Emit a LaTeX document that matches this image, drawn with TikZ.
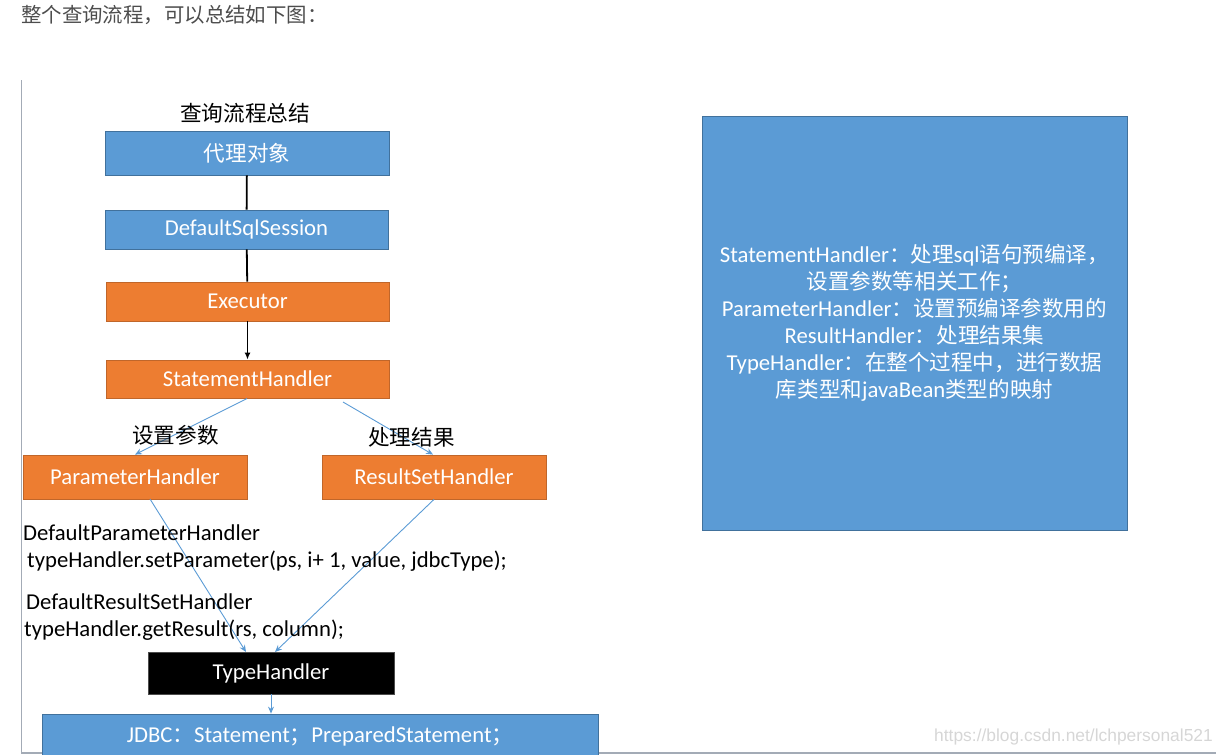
\documentclass[tikz,border=0pt]{standalone}
\usepackage{fontspec}
\setmainfont{Carlito}
\newfontfamily\cjk[Scale=0.95]{Noto Sans CJK SC}
\newfontfamily\wm{Liberation Sans}
\usetikzlibrary{arrows.meta,calc}
\definecolor{blueC}{HTML}{5B9BD5}
\definecolor{blueB}{HTML}{41719C}
\definecolor{orangeC}{HTML}{ED7D31}
\definecolor{orangeB}{HTML}{C0662A}
\definecolor{frameC}{HTML}{A3ABB6}
\definecolor{topC}{HTML}{4D4D4D}
\newcommand{\C}[1]{{\cjk #1}}
\tikzset{
  boxbase/.style={inner sep=0pt, line width=0.8pt, text=white, font=\fontsize{22.7}{27}\selectfont},
  bluebox/.style={boxbase, fill=blueC, draw=blueB},
  orangebox/.style={boxbase, fill=orangeC, draw=orangeB},
  blackbox/.style={boxbase, fill=black, draw=black!70},
  blackline/.style={line width=1.8pt, black},
  blackarrow/.style={blackline, -{Latex[length=7pt,width=6pt]}},
  bluearrow/.style={line width=0.9pt, blueC, -{Stealth[length=7pt,width=6pt]}},
  plain/.style={inner sep=0pt, font=\fontsize{22.7}{27}\selectfont},
  cjklabel/.style={inner sep=0pt, font=\cjk\fontsize{22.7}{27}\selectfont},
}
\begin{document}
\begin{tikzpicture}[x=1pt,y=-1pt]
\useasboundingbox (0,0) rectangle (1216,755);
% top caption
\node[anchor=west, inner sep=0pt, text=topC, font=\cjk\fontsize{21.5}{25}\selectfont] (cap) at (21,15) {整个查询流程，可以总结如下图：};
% frame lines
\coordinate (f1) at (21.5,80);
\coordinate (f2) at (21.5,753);
\coordinate (f3) at (1216,753);
\draw[frameC, line width=1.4pt] (f1) -- (f2) -- (f3);
% title
\node[cjklabel, font=\cjk\fontsize{22.8}{27}\selectfont] (title) at (245,113) {查询流程总结};
% boxes
\node[bluebox, minimum width=284pt, minimum height=44pt] (proxy) at (247,153) {\C{代理对象}};
\node[bluebox, minimum width=283pt, minimum height=39pt] (dss) at (246.5,229.5) {DefaultSqlSession};
\node[orangebox, minimum width=283pt, minimum height=39pt] (exec) at (247.5,301.5) {Executor};
\node[orangebox, minimum width=283pt, minimum height=38pt] (sh) at (247.5,379) {StatementHandler};
\node[orangebox, minimum width=224pt, minimum height=44pt] (ph) at (135,477) {ParameterHandler};
\node[orangebox, minimum width=224pt, minimum height=44pt] (rsh) at (434,477) {ResultSetHandler};
\node[blackbox, minimum width=246pt, minimum height=42pt] (th) at (271,673) {TypeHandler};
\node[bluebox, minimum width=556pt, minimum height=44pt] (jdbc) at (320,736) {JDBC\C{：}Statement\C{；}PreparedStatement\C{；}};
\node[bluebox, minimum width=425pt, minimum height=414pt, align=center] (desc) at (914.5,323)
 {StatementHandler\C{：处理}sql\C{语句预编译，}\\
  \C{设置参数等相关工作；}\\
  ParameterHandler\C{：设置预编译参数用的}\\
  ResultHandler\C{：处理结果集}\\
  TypeHandler\C{：在整个过程中，进行数据}\\
  \C{库类型和}javaBean\C{类型的映射}};
% black connectors
\draw[blackline] (proxy) -- (dss);
\draw[blackline] (dss) -- (exec);
\draw[blackarrow] (exec) -- (sh);
% blue connectors
\coordinate (s1) at (247,398.5);
\coordinate (s2) at (343,402);
\draw[bluearrow] (s1) -- (ph.north);
\draw[bluearrow] (s2) -- ($(rsh.north)+(-1,0)$);
\coordinate (p1) at (150,499);
\coordinate (t1) at (246,652);
\coordinate (t2) at (275,652);
\draw[bluearrow] (p1) -- (t1);
\draw[bluearrow] (rsh.south) -- (t2);
\draw[bluearrow] (th.south) -- (th.south |- jdbc.north);
% labels
\node[cjklabel] (l1) at (175.5,435) {设置参数};
\node[cjklabel] (l2) at (411.5,437) {处理结果};
\node[plain, anchor=west] (t1a) at (23,533) {DefaultParameterHandler};
\node[plain, anchor=west] (t1b) at (27,561) {typeHandler.setParameter(ps, i+ 1, value, jdbcType);};
\node[plain, anchor=west] (t2a) at (26,602) {DefaultResultSetHandler};
\node[plain, anchor=west] (t2b) at (24,630) {typeHandler.getResult(rs, column);};
% watermark
\node[anchor=east, inner sep=0pt, text=black!16, font=\wm\fontsize{17.4}{20}\selectfont] (wmk) at (1213,737) {https://blog.csdn.net/lchpersonal521};
\end{tikzpicture}
\end{document}
